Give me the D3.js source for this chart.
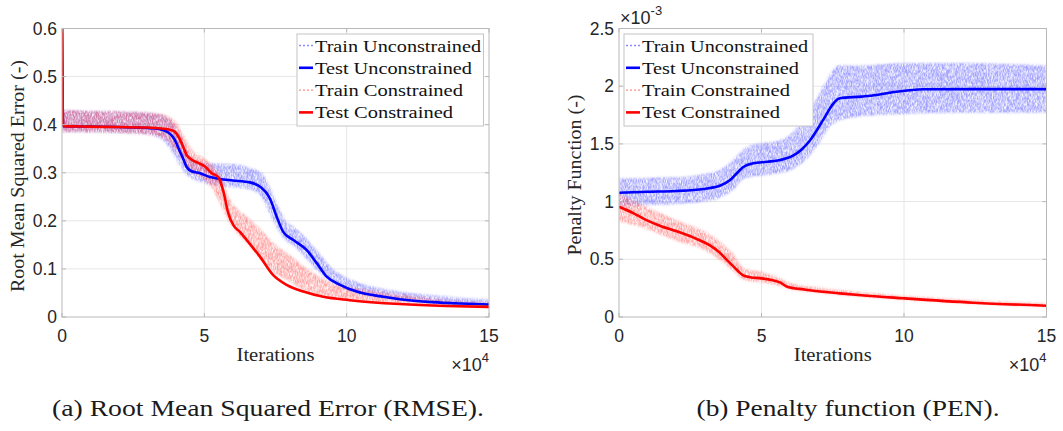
<!DOCTYPE html>
<html>
<head>
<meta charset="utf-8">
<script src="https://cdn.jsdelivr.net/npm/d3@7"></script>
<style>
  html, body { margin: 0; padding: 0; background: #fff; }
  svg { display: block; }
  .sans { font-family: "Liberation Sans", Arial, Helvetica, sans-serif; }
  .serif { font-family: "Liberation Serif", "Times New Roman", serif; }
</style>
</head>
<body>
<svg id="fig" width="1063" height="431"></svg>
<script>
// ---- Data -------------------------------------------------------------
// Iteration counts.
const xTicks = [0, 50000, 100000, 150000];
const xTickLabels = ["0", "5", "10", "15"];

const rmseTicks = [0, 0.1, 0.2, 0.3, 0.4, 0.5, 0.6];
const rmseTickLabels = ["0", "0.1", "0.2", "0.3", "0.4", "0.5", "0.6"];

// Penalty values are given in units of 1e-3 (axis exponent label).
const penTicks = [0, 0.5, 1, 1.5, 2, 2.5];
const penTickLabels = ["0", "0.5", "1", "1.5", "2", "2.5"];

const seriesNames = ["Train Unconstrained", "Test Unconstrained", "Train Constrained", "Test Constrained"];

// RMSE, test curves: [iteration, value]
const rmseTestUnc = [[0,0.62],[400,0.397],[10000,0.396],[20000,0.395],[30000,0.393],[34000,0.391],[37000,0.385],[39500,0.370],[41000,0.350],[42500,0.330],[43800,0.312],[45500,0.303],[48500,0.299],[52000,0.291],[55500,0.287],[60000,0.284],[66000,0.280],[69600,0.271],[73000,0.247],[75400,0.209],[77700,0.177],[81300,0.160],[86000,0.139],[89500,0.112],[93000,0.084],[97700,0.067],[103500,0.053],[112900,0.042],[118700,0.037],[130000,0.031],[140000,0.028],[150000,0.026]];
const rmseTestCon = [[0,0.62],[400,0.397],[10000,0.396],[20000,0.395],[30000,0.394],[35000,0.392],[37500,0.390],[39700,0.385],[42000,0.362],[43800,0.337],[45600,0.327],[48000,0.320],[50200,0.313],[52600,0.299],[54900,0.291],[56700,0.261],[58400,0.216],[60200,0.191],[62500,0.177],[64900,0.160],[69600,0.125],[74200,0.087],[78900,0.067],[84800,0.053],[91800,0.042],[101000,0.035],[118700,0.027],[135000,0.023],[150000,0.021]];

// RMSE, train spread: [iteration, lower, upper]
const rmseTrainUnc = [[0,0.385,0.430],[10000,0.385,0.428],[20000,0.383,0.427],[30000,0.380,0.425],[35000,0.370,0.420],[38000,0.350,0.410],[41000,0.320,0.385],[44000,0.295,0.345],[47000,0.285,0.325],[52000,0.276,0.320],[60000,0.270,0.318],[66000,0.265,0.310],[70000,0.250,0.300],[73000,0.215,0.270],[75500,0.186,0.236],[78000,0.163,0.205],[82000,0.145,0.185],[86000,0.120,0.162],[90000,0.095,0.135],[94000,0.075,0.106],[98000,0.062,0.088],[104000,0.050,0.072],[110000,0.043,0.062],[120000,0.035,0.052],[130000,0.030,0.045],[140000,0.027,0.040],[150000,0.025,0.036]];
const rmseTrainCon = [[0,0.385,0.430],[10000,0.385,0.428],[20000,0.383,0.427],[30000,0.380,0.425],[36000,0.370,0.420],[40000,0.345,0.405],[43000,0.320,0.375],[46000,0.300,0.345],[50000,0.285,0.330],[53000,0.265,0.315],[56000,0.230,0.290],[58500,0.200,0.250],[61000,0.178,0.228],[65000,0.154,0.209],[70000,0.119,0.181],[75000,0.090,0.150],[79000,0.077,0.133],[85000,0.056,0.105],[95000,0.040,0.070],[105000,0.034,0.058],[120000,0.028,0.045],[135000,0.023,0.035],[150000,0.020,0.030]];

// Penalty (x1e-3), test curves
const penTestUnc = [[0,1.077],[10000,1.085],[20000,1.092],[26000,1.100],[32000,1.118],[35400,1.138],[39000,1.187],[41500,1.250],[43600,1.300],[47100,1.332],[52000,1.345],[56500,1.360],[61200,1.400],[64000,1.450],[67000,1.530],[71700,1.710],[75200,1.850],[77500,1.895],[85000,1.910],[90400,1.924],[97400,1.952],[106800,1.973],[120000,1.975],[150000,1.975]];
const penTestCon = [[0,0.955],[5000,0.900],[10000,0.835],[15000,0.785],[20000,0.745],[26000,0.690],[31900,0.620],[35000,0.565],[38000,0.490],[41300,0.410],[43600,0.360],[46000,0.345],[50000,0.335],[54000,0.318],[56500,0.300],[58800,0.265],[65000,0.238],[77500,0.205],[85000,0.188],[99800,0.162],[124300,0.124],[150000,0.098]];

// Penalty (x1e-3), train spread
const penTrainUnc = [[0,0.960,1.200],[10000,0.970,1.205],[20000,0.980,1.210],[30000,1.000,1.240],[35000,1.030,1.270],[40000,1.100,1.360],[44000,1.200,1.460],[48000,1.220,1.500],[55000,1.240,1.520],[60000,1.270,1.580],[65000,1.350,1.720],[70000,1.500,1.920],[74000,1.650,2.100],[77000,1.700,2.180],[85000,1.740,2.180],[100000,1.760,2.200],[120000,1.770,2.200],[150000,1.770,2.180]];
const penTrainCon = [[0,0.830,1.070],[10000,0.760,0.950],[20000,0.660,0.840],[30000,0.580,0.740],[35000,0.500,0.660],[40000,0.400,0.550],[44000,0.320,0.420],[50000,0.300,0.390],[55000,0.280,0.350],[60000,0.240,0.295],[70000,0.210,0.255],[85000,0.175,0.215],[100000,0.150,0.185],[125000,0.115,0.145],[150000,0.088,0.118]];

// ---- Drawing ----------------------------------------------------------
const svg = d3.select("#fig");
const BLUE = "#0000ff", RED = "#ff0000";
const TXT = "#262626";

// Fit a serif string to a set width (Computer-Modern-like proportions)
function fit(sel, width) {
  return sel.attr("textLength", width).attr("lengthAdjust", "spacingAndGlyphs");
}

const defs = svg.append("defs");
// Soft speckle texture for the noisy training traces
const grain = defs.append("filter").attr("id", "grain")
  .attr("x", "-5%").attr("y", "-20%").attr("width", "110%").attr("height", "140%");
grain.append("feTurbulence").attr("type", "fractalNoise")
  .attr("baseFrequency", "2.2 0.3").attr("numOctaves", 2).attr("seed", 11).attr("result", "noise");
grain.append("feColorMatrix").attr("in", "noise").attr("type", "matrix")
  .attr("values", "0 0 0 0 0  0 0 0 0 0  0 0 0 0 0  1.7 0 0 0 -0.25").attr("result", "mask");
grain.append("feGaussianBlur").attr("in", "SourceGraphic").attr("stdDeviation", 1.1).attr("result", "soft");
grain.append("feComposite").attr("in", "soft").attr("in2", "mask").attr("operator", "in");

function panel(cfg) {
  const { id, x0, x1, y0, y1, yMax, yTicks, yTickLabels, trains, tests, ylabel, legend, expLabel } = cfg;
  const x = d3.scaleLinear().domain([0, 150000]).range([x0, x1]);
  const y = d3.scaleLinear().domain([0, yMax]).range([y1, y0]);
  const g = svg.append("g");

  defs.append("clipPath").attr("id", "clip-" + id)
    .append("rect").attr("x", x0).attr("y", y0).attr("width", x1 - x0).attr("height", y1 - y0);

  // grid
  g.append("g").selectAll("line").data(xTicks.slice(1, -1)).join("line")
    .attr("x1", d => x(d)).attr("x2", d => x(d)).attr("y1", y0).attr("y2", y1)
    .attr("stroke", "#e6e6e6").attr("stroke-width", 1);
  g.append("g").selectAll("line").data(yTicks.slice(1, -1)).join("line")
    .attr("x1", x0).attr("x2", x1).attr("y1", d => y(d)).attr("y2", d => y(d))
    .attr("stroke", "#e6e6e6").attr("stroke-width", 1);

  const plot = g.append("g").attr("clip-path", `url(#clip-${id})`);

  // training spread
  trains.forEach(t => {
    const area = d3.area().x(d => x(d[0])).y0(d => y(d[1])).y1(d => y(d[2])).curve(d3.curveMonotoneX);
    plot.append("path").datum(t.data).attr("d", area)
      .attr("fill", t.color).attr("fill-opacity", 0.55).attr("filter", "url(#grain)");
  });
  // test curves
  tests.forEach(t => {
    const line = d3.line().x(d => x(d[0])).y(d => y(d[1])).curve(d3.curveMonotoneX);
    plot.append("path").datum(t.data).attr("d", line)
      .attr("fill", "none").attr("stroke", t.color).attr("stroke-width", 2.6)
      .attr("stroke-linejoin", "round");
  });

  // axes box and inward ticks
  g.append("rect").attr("x", x0).attr("y", y0).attr("width", x1 - x0).attr("height", y1 - y0)
    .attr("fill", "none").attr("stroke", "#b8b8b8").attr("stroke-width", 1);
  const tk = g.append("g").attr("stroke", "#b8b8b8").attr("stroke-width", 1);
  xTicks.forEach(v => {
    tk.append("line").attr("x1", x(v)).attr("x2", x(v)).attr("y1", y1).attr("y2", y1 - 4);
    tk.append("line").attr("x1", x(v)).attr("x2", x(v)).attr("y1", y0).attr("y2", y0 + 4);
  });
  yTicks.forEach(v => {
    tk.append("line").attr("x1", x0).attr("x2", x0 + 4).attr("y1", y(v)).attr("y2", y(v));
    tk.append("line").attr("x1", x1).attr("x2", x1 - 4).attr("y1", y(v)).attr("y2", y(v));
  });

  // tick labels
  g.append("g").selectAll("text").data(xTicks).join("text").attr("class", "sans")
    .attr("x", d => x(d)).attr("y", y1 + 25).attr("text-anchor", "middle")
    .attr("font-size", 17.5).attr("fill", TXT)
    .text((d, i) => xTickLabels[i]);
  g.append("g").selectAll("text").data(yTicks).join("text").attr("class", "sans")
    .attr("x", x0 - 5).attr("y", d => y(d) + 6).attr("text-anchor", "end")
    .attr("font-size", 17.5).attr("fill", TXT)
    .text((d, i) => yTickLabels[i]);

  // x exponent
  const xe = g.append("text").attr("class", "sans").attr("x", x1).attr("y", y1 + 54).attr("text-anchor", "end")
    .attr("font-size", 18).attr("fill", TXT);
  xe.append("tspan").text("\u00d710");
  xe.append("tspan").attr("dy", -9).attr("font-size", 13).text("4");

  if (expLabel) {
    const ye = g.append("text").attr("class", "sans").attr("x", x0 + 1).attr("y", y0 - 5)
      .attr("font-size", 18).attr("fill", TXT);
    ye.append("tspan").text("\u00d710");
    ye.append("tspan").attr("dy", -9).attr("font-size", 13).text(expLabel);
  }

  // axis titles
  fit(g.append("text").attr("class", "serif").attr("x", (x0 + x1) / 2).attr("y", y1 + 44)
    .attr("text-anchor", "middle").attr("font-size", 18.5).attr("fill", TXT).text("Iterations"), 78);
  fit(g.append("text").attr("class", "serif")
    .attr("transform", `translate(${ylabel.x},${ylabel.cy}) rotate(-90)`)
    .attr("text-anchor", "middle").attr("dy", "0.35em")
    .attr("font-size", 18.5).attr("fill", TXT).text(ylabel.text), ylabel.width);

  // legend
  const L = legend;
  const lg = g.append("g");
  lg.append("rect").attr("x", L.x).attr("y", L.y).attr("width", L.w).attr("height", L.h)
    .attr("fill", "#fff").attr("stroke", "#c4c4c4").attr("stroke-width", 1);
  const styles = [
    { color: "#8c8cff", dash: "2,2", width: 1.3 },
    { color: BLUE, dash: null, width: 2.6 },
    { color: "#ff8c8c", dash: "2,2", width: 1.3 },
    { color: RED, dash: null, width: 2.6 }
  ];
  const nameWidths = [166, 157, 148, 138];
  seriesNames.forEach((name, i) => {
    const cy = L.y + 11.5 + i * 22.3;
    lg.append("line").attr("x1", L.x + 2).attr("x2", L.x + 16).attr("y1", cy).attr("y2", cy)
      .attr("stroke", styles[i].color).attr("stroke-width", styles[i].width)
      .attr("stroke-dasharray", styles[i].dash);
    fit(lg.append("text").attr("class", "serif").attr("x", L.x + 18).attr("y", cy + 6)
      .attr("font-size", 17.5).attr("fill", "#111").text(name), nameWidths[i]);
  });
}

panel({
  id: "rmse", x0: 62, x1: 489, y0: 28.5, y1: 317, yMax: 0.6,
  yTicks: rmseTicks, yTickLabels: rmseTickLabels,
  trains: [{ data: rmseTrainUnc, color: "#5555ff" }, { data: rmseTrainCon, color: "#ff5555" }],
  tests: [{ data: rmseTestUnc, color: BLUE }, { data: rmseTestCon, color: RED }],
  ylabel: { x: 18, cy: 176, text: "Root Mean Squared Error (-)", width: 232 },
  legend: { x: 297, y: 34, w: 186.5, h: 92 }
});

panel({
  id: "pen", x0: 619, x1: 1046.5, y0: 28.5, y1: 317, yMax: 2.5,
  yTicks: penTicks, yTickLabels: penTickLabels,
  trains: [{ data: penTrainUnc, color: "#5555ff" }, { data: penTrainCon, color: "#ff5555" }],
  tests: [{ data: penTestUnc, color: BLUE }, { data: penTestCon, color: RED }],
  ylabel: { x: 575, cy: 175, text: "Penalty Function (-)", width: 161 },
  legend: { x: 624, y: 34, w: 189, h: 92 },
  expLabel: "-3"
});

// sub-captions
fit(svg.append("text").attr("class", "serif").attr("x", 268).attr("y", 416).attr("text-anchor", "middle")
  .attr("font-size", 24).attr("fill", "#1a1a1a")
  .text("(a) Root Mean Squared Error (RMSE)."), 432);
fit(svg.append("text").attr("class", "serif").attr("x", 848).attr("y", 416).attr("text-anchor", "middle")
  .attr("font-size", 24).attr("fill", "#1a1a1a")
  .text("(b) Penalty function (PEN)."), 303);
</script>
</body>
</html>
